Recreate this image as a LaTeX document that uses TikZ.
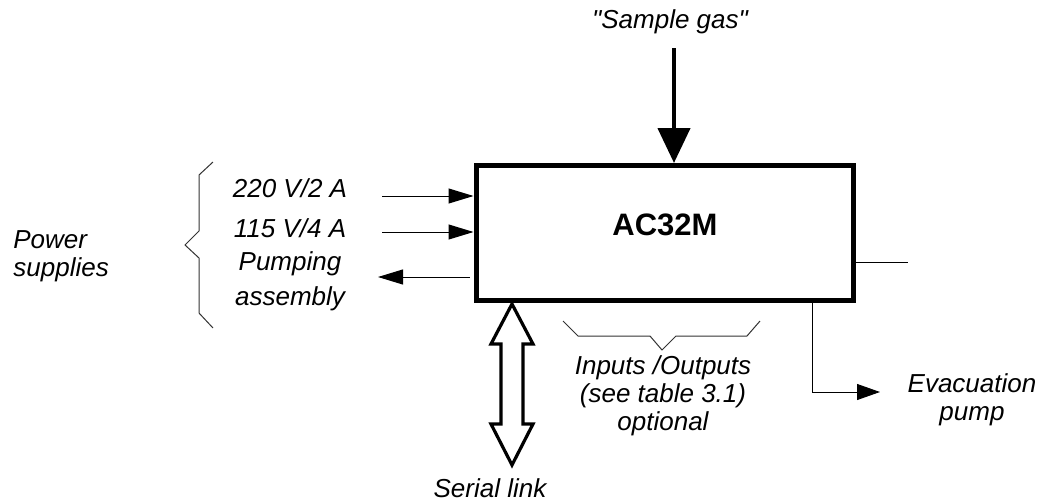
\documentclass[tikz,border=0pt]{standalone}
\usepackage{fontspec}
\setmainfont{Liberation Sans}
\usetikzlibrary{arrows.meta, calc}
\tikzstyle{unit}=[draw, line width=2.5pt, minimum width=188.75pt, minimum height=67.5pt, inner sep=0pt]
\tikzstyle{lbl}=[font=\itshape\fontsize{13}{14}\selectfont, inner sep=0pt, align=center]
\tikzstyle{wire}=[line width=0.5pt, -{Triangle[length=12.5pt, width=7.5pt]}]
\tikzstyle{brace}=[line width=0.5pt, black!80]

\begin{document}
\begin{tikzpicture}[x=0.5pt, y=-0.5pt]
    \useasboundingbox (0,0) rectangle (1041,504);
    \node[unit] (ac) at (664.75,233) {};
    \node[anchor=base, inner sep=0pt, font=\bfseries\fontsize{15.5}{16}\selectfont] (name) at (665,235) {AC32M};
    % gas inlet
    \node[lbl, anchor=base] (gas) at (670,28) {\textquotedbl Sample gas\textquotedbl};
    \coordinate (g0) at (674,48);
    \draw[line width=2.2pt, -{Triangle[length=17.5pt, width=16pt]}] (g0) -- (g0 |- ac.north);
    % power supplies
    \node[lbl, anchor=base] (v220) at (290,197) {220 V/2 A};
    \node[lbl, anchor=base] (v115) at (290,237) {115 V/4 A};
    \node[lbl, anchor=base] (pump) at (290,305) {Pumping\\[3.5pt]assembly};
    \node[lbl, anchor=base west, align=left] (pwr) at (13,276) {Power\\supplies};
    \coordinate (a0) at (382,196);
    \coordinate (a1) at (382,232);
    \coordinate (a2) at (378,277);
    \draw[wire] (a0) -- (a0 -| ac.west);
    \draw[wire] (a1) -- (a1 -| ac.west);
    \draw[wire] ($(a2 -| ac.west)+(-4,0)$) -- (a2);
    \draw[brace] (213,162) -- (199,175) -- (199,231) -- (185,245) -- (199,258) -- (199,313) -- (213,328);
    % serial link
    \node[lbl, anchor=base] (ser) at (490,497) {Serial link};
    \coordinate (s0) at (512,304);
    \coordinate (s1) at (512,465);
    \draw[line width=1.6pt, line join=miter] (s0) -- ++(21,40) -- ++(-10,0) -- ($(s1)+(11,-41)$) -- ++(10,0)
        -- (s1) -- ++(-21,-41) -- ++(10,0) -- ($(s0)+(-11,40)$) -- ++(-10,0) -- cycle;
    % inputs / outputs
    \draw[brace] (563,321) -- (578,336) -- (650,336) -- (662,350) -- (676,336) -- (747,336) -- (760,321);
    \node[lbl, anchor=base] (io) at (663,430) {Inputs /Outputs\\(see table 3.1)\\optional};
    % right side
    \coordinate (r0) at (908,262);
    \draw[line width=0.5pt] (r0 -| ac.east) -- (r0);
    \coordinate (e0) at (812,392);
    \coordinate (e1) at (880,392);
    \draw[line width=0.5pt, -{Triangle[length=11.5pt, width=8pt]}] (e0 |- ac.south) -- (e0) -- (e1);
    \node[lbl, anchor=base] (evac) at (972,420) {Evacuation\\pump};
\end{tikzpicture}
\end{document}
